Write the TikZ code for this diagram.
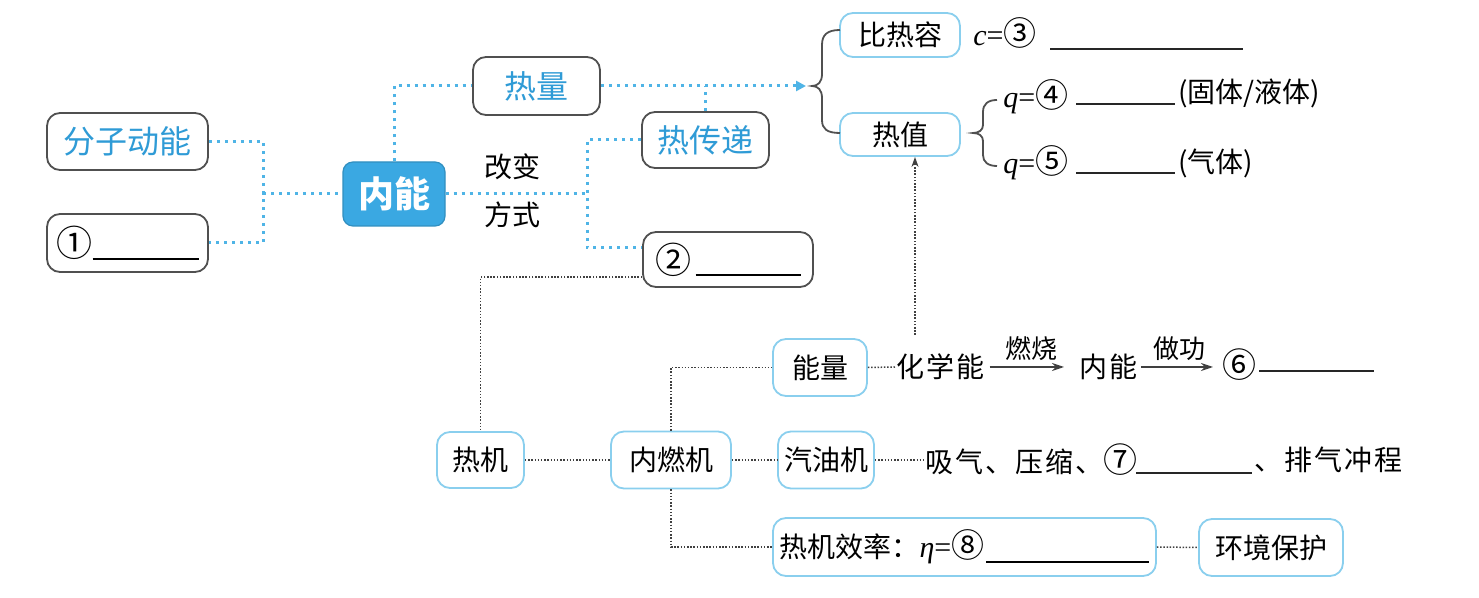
\documentclass[tikz,border=0pt]{standalone}
\usepackage{fontspec}
\setmainfont{Noto Sans CJK SC}
\newfontfamily\cjksp[LetterSpace=7]{Noto Sans CJK SC}
\newfontfamily\lser{Liberation Serif}
\newcommand\vv[1]{{\lser\fontsize{15}{17}\selectfont\itshape #1\upshape=}}
\newcommand\cn[2][16.5]{{\fontsize{#1}{#1}\selectfont #2}}
\usetikzlibrary{arrows.meta,calc}
\definecolor{tblue}{HTML}{2F9BD6}
\definecolor{fblue}{HTML}{3AA8E2}
\definecolor{dblue}{HTML}{4FB4E6}
\definecolor{lblue}{HTML}{8ACFEE}
\definecolor{gbord}{HTML}{505050}
\newcommand\fsk{\fontsize{14}{16}\selectfont}
\newcommand\fsb{\fontsize{16}{18}\selectfont}
\newcommand\fsl{\fontsize{13}{15}\selectfont}
\begin{document}
\begin{tikzpicture}[x=0.5pt,y=-0.5pt,
  gbox/.style={draw=gbord, line width=0.9pt, rounded corners=6.5pt, fill=white, inner sep=1pt, font=\fsk},
  lbox/.style={draw=lblue, line width=0.9pt, rounded corners=6.5pt, fill=white, inner sep=1pt, font=\fsk},
  btext/.style={text=tblue, font=\fsb},
  plain/.style={inner sep=0.5pt, font=\fsk},
  bdot/.style={dblue, line width=1.5pt, dash pattern=on 1.5pt off 2.5pt},
  kdot/.style={black!75, line width=0.75pt, dash pattern=on 0.75pt off 0.85pt},
  bracep/.style={draw=gbord, line width=0.9pt},
  blank/.style={draw=black!85, line width=1pt},
  flow/.style={draw=black!75, line width=0.8pt, -{Stealth[length=6pt,width=4pt]}},
  flowlab/.style={above=3pt, inner sep=0pt, font=\fsl}
]
\fill[white] (0,0) rectangle (1479,598);
\useasboundingbox (0,0) rectangle (1479,598);

% ---- left part ----
\node[gbox, btext, minimum width=80.5pt, minimum height=28.5pt] (fz) at (127.5,141.5) {分子动能};
\node[gbox, minimum width=80.5pt, minimum height=29pt] (n1) at (127.5,243) {\cn[18]{①}\rule[-2pt]{53pt}{0.9pt}};
\node[draw=fblue!85!black, fill=fblue, rounded corners=5pt, line width=0.6pt, minimum width=51pt, minimum height=32pt, text=white, font=\fontsize{18}{20}\selectfont\bfseries] (nn) at (394,194) {内能};
\node[gbox, btext, minimum width=63.5pt, minimum height=29pt] (rl) at (536.5,86) {热量};
\node[gbox, btext, minimum width=63.5pt, minimum height=28pt] (rcd) at (705.5,140) {热传递};
\node[gbox, minimum width=85pt, minimum height=27.5pt] (n2) at (728,259.5) {\cn[18]{②}\hspace{2pt}\rule[-1.5pt]{52.5pt}{0.9pt}\hspace{5pt}};
\node[plain] (gb) at (512,167) {改变};
\node[plain] (fs) at (512,215) {方式};

\coordinate (jl) at (263,194);
\coordinate (jr) at (587,194);
\coordinate (bt) at (806,86);

\draw[bdot] (fz.east) -| (jl) |- (n1.east);
\draw[bdot] (jl) -- (nn.west);
\draw[bdot] (nn.north) |- (rl.west);
\draw[bdot] (nn.east) -- (jr);
\draw[bdot] (rcd.west) -| (jr) |- ([yshift=6pt]n2.west);
\draw[bdot] (rcd.north) -- (rcd.north |- rl.east);
\draw[bdot, -{Triangle[length=5pt,width=5pt]}] (rl.east) -- (bt);

% ---- top right ----
\node[lbox, minimum width=60pt, minimum height=22pt] (brr) at (900,35) {比热容};
\node[lbox, minimum width=60pt, minimum height=21.5pt] (rz) at (900,134.5) {热值};
\draw[bracep] (840,30) .. controls (827,30) and (822,35) .. (822,45) -- (822,74)
  .. controls (822,82) and (818,86) .. (812,86)
  .. controls (818,86) and (822,90) .. (822,98) -- (822,120)
  .. controls (822,129) and (827,133) .. (840,133);
\draw[bracep] (997,100) .. controls (988,100) and (983,104) .. (983,112) -- (983,125)
  .. controls (983,130) and (979,133) .. (973,133)
  .. controls (979,133) and (983,136) .. (983,141) -- (983,155)
  .. controls (983,162) and (988,166) .. (997,166);
\node[plain, anchor=west] (c3) at (972,33) {\vv{c}\cn{③}};
\draw[blank] (1050,49) -- (1243,49);
\node[plain, anchor=west] (q4) at (1002,97) {\vv{q}\cn{④}};
\draw[blank] (1076,104) -- (1175,104);
\node[plain, anchor=west] (p4) at (1177,93) {(固体/液体)};
\node[plain, anchor=west] (q5) at (1002,163) {\vv{q}\cn{⑤}};
\draw[blank] (1076,173) -- (1175,173);
\node[plain, anchor=west] (p5) at (1177,163) {(气体)};

% ---- bottom part ----
\node[lbox, minimum width=43.5pt, minimum height=28pt] (rj) at (480.5,460) {热机};
\node[lbox, minimum width=60pt, minimum height=28.5pt] (nrj) at (671,460) {内燃机};
\node[lbox, minimum width=47pt, minimum height=28.5pt] (nl) at (820,367.5) {能量};
\node[lbox, minimum width=48pt, minimum height=28.5pt] (qy) at (826,460) {汽油机};
\node[lbox, minimum width=191.5pt, minimum height=29pt] (xl) at (964.5,547) {热机效率：\vv{η}\cn{⑧}\hspace{1pt}\rule[-2.5pt]{81.5pt}{0.9pt}};
\node[lbox, minimum width=72pt, minimum height=28.5pt] (hj) at (1271,547.5) {环境保护};

\node[plain, anchor=west] (chem) at (895,367) {\cjksp 化学能};
\node[plain, anchor=west] (nn2) at (1078,367) {\cjksp 内能};
\node[plain, anchor=west] (c6) at (1221,365) {\cn[17]{⑥}};
\draw[blank] (1259,371) -- (1374,371);
\node[plain, anchor=west] (xq) at (924,460) {\cjksp 吸气、压缩、\cn[17]{⑦}};
\draw[blank] (1136,473) -- (1252,473);
\node[plain, anchor=west] (xr) at (1253,460) {\cjksp 、排气冲程};

\coordinate (hs) at (915,335);

\draw[kdot] ([yshift=-8.75pt]n2.west) -| (rj.north);
\draw[kdot] (rj.east) -- (nrj.west);
\draw[kdot] (nrj.north) |- (nl.west);
\draw[kdot] (nrj.east) -- (qy.west);
\draw[kdot] (nrj.south) |- (xl.west);
\draw[kdot] (nl.east) -- (chem.west);
\draw[kdot] (qy.east) -- (xq.west);
\draw[kdot] (xl.east) -- (hj.west);
\draw[kdot, -{Stealth[length=5pt,width=3.5pt]}] (hs) -- (hs |- rz.south);

\draw[flow, shorten <=2pt, shorten >=7pt] (chem.east) -- node[flowlab] {燃烧} (nn2.west);
\draw[flow, shorten <=1pt, shorten >=4pt] (nn2.east) -- node[flowlab] {做功} (nn2.east -| c6.west);
\end{tikzpicture}
\end{document}
